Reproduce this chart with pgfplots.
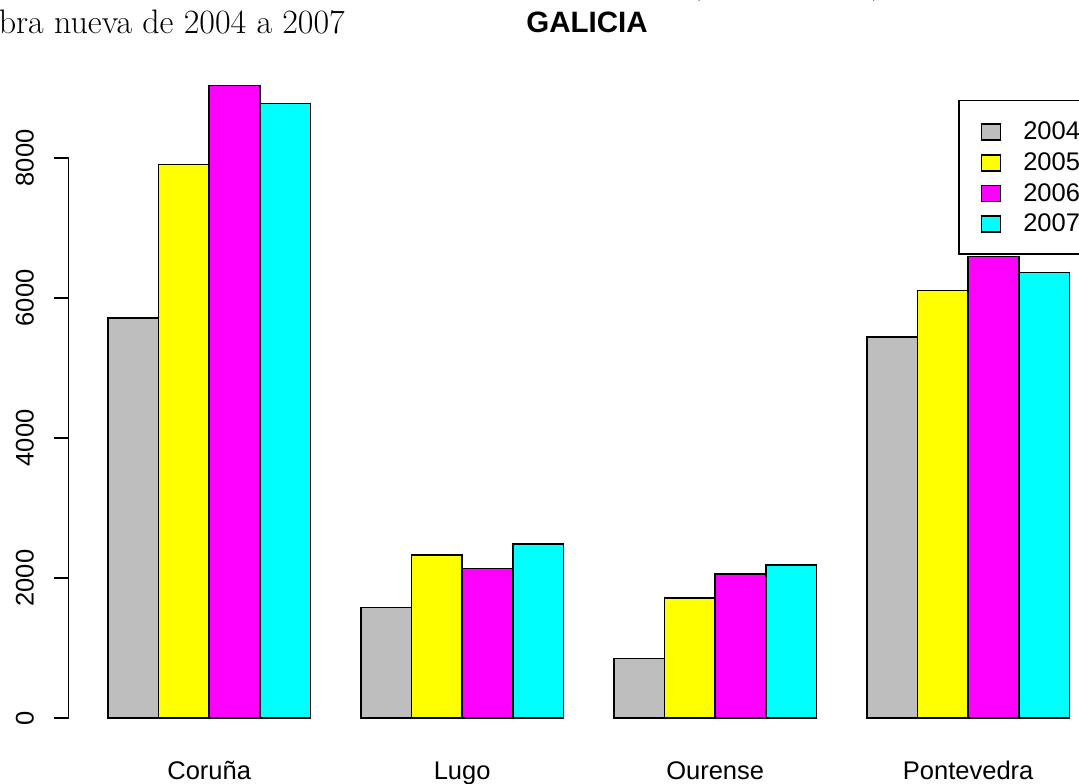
\documentclass[border=0pt]{standalone}
\usepackage{pgfplots}
\pgfplotsset{compat=1.18}
\usepackage{fontspec}
\newfontfamily\arial{Liberation Sans}
\definecolor{rgris}{HTML}{BEBEBE}
\definecolor{ramarillo}{HTML}{FFFF00}
\definecolor{rmagenta}{HTML}{FF00FF}
\definecolor{rcian}{HTML}{00FFFF}
\newcommand{\lab}{\arial\fontsize{25.5}{30}\selectfont}

\pgfplotsset{
  rbar/.style={ybar, bar width=1, bar shift=0pt, draw=black, line width=1.5pt, fill=#1,
    legend image code/.code={\draw[fill=#1, draw=black, line width=1.5pt] (0pt,-9.5pt) rectangle (19pt,6.5pt);}},
}

\begin{document}
\begin{tikzpicture}
\path[use as bounding box, clip] (0pt,0pt) rectangle (1079pt,784pt);
\begin{axis}[
  at={(0pt,0pt)}, anchor=south west,
  scale only axis, width=1079pt, height=784pt,
  xmin=-1.134, xmax=20.19,
  ymin=-942.9, ymax=10257.1,
  hide axis, clip=false,
  legend cell align=left,
  legend style={at={(rel axis cs:0.88786,0.87245)}, anchor=north west,
    draw=black, line width=1.5pt, fill=white, font=\lab,
    inner xsep=22pt, inner ysep=21pt, row sep=11.4pt, column sep=22pt,
    nodes={inner sep=0pt, text height=18pt, text depth=0pt}},
]
% 2004
\addplot[rbar=rgris] coordinates {(1.5,5714) (6.5,1576) (11.5,847) (16.5,5443)};
% 2005
\addplot[rbar=ramarillo] coordinates {(2.5,7904) (7.5,2329) (12.5,1714) (17.5,6110)};
% 2006
\addplot[rbar=rmagenta] coordinates {(3.5,9039) (8.5,2138) (13.5,2057) (18.5,6595)};
% 2007
\addplot[rbar=rcian] coordinates {(4.5,8776) (9.5,2486) (14.5,2186) (19.5,6362)};
\legend{2004,2005,2006,2007}

% eje y estilo R
\draw[line width=1.5pt] (axis cs:0.22,0) -- (axis cs:0.22,8000);
\pgfplotsinvokeforeach{0,2000,4000,6000,8000}{
  \draw[line width=1.5pt] (axis cs:0.22,#1) -- ++(-15pt,0pt);
  \node[rotate=90, anchor=base, font=\lab] at ([xshift=-35pt]axis cs:0.22,#1) {#1};
}
% nombres de provincias
\node[anchor=base, font=\lab] at (axis cs:3,-885) {Coruña};
\node[anchor=base, font=\lab] at (axis cs:8,-885) {Lugo};
\node[anchor=base, font=\lab] at (axis cs:13,-885) {Ourense};
\node[anchor=base, font=\lab] at (axis cs:18,-885) {Pontevedra};
\end{axis}

\node[anchor=base, font=\arial\bfseries\fontsize{29.5}{35}\selectfont] at (587pt,751pt) {GALICIA};
\node[anchor=base east, inner sep=0pt, font=\fontsize{34}{40}\selectfont] at (345pt,750.7pt) {de obra nueva de 2004 a 2007};
\node[anchor=base west, inner sep=0pt, font=\fontsize{32}{38}\selectfont] at (690pt,790.5pt) {(por provincia)};
\end{tikzpicture}
\end{document}
